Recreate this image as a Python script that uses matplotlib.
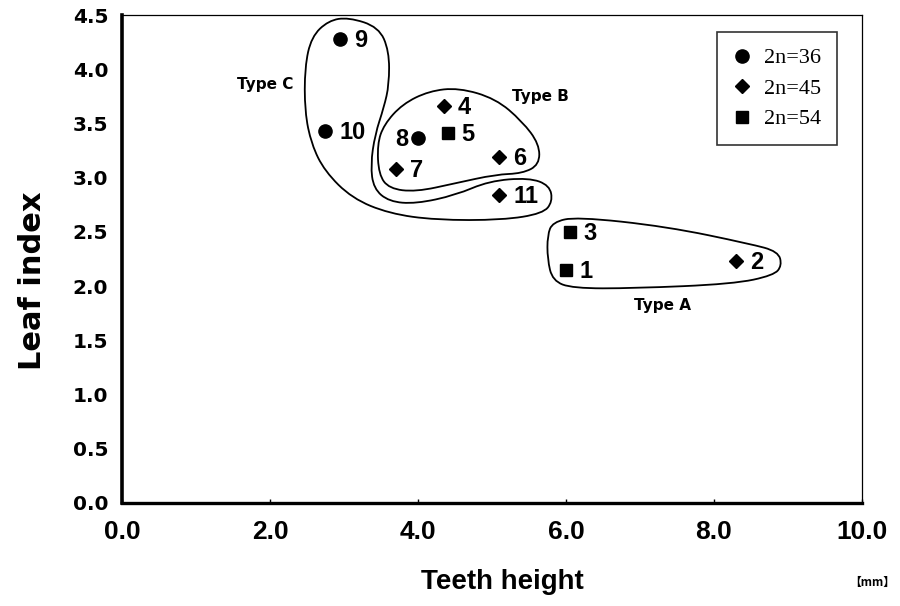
import matplotlib

matplotlib.use("Agg")
import matplotlib.pyplot as plt
from matplotlib.lines import Line2D
from matplotlib.patches import PathPatch
from matplotlib.path import Path

# accession number, teeth height (mm), leaf index, chromosome number
ids = [1, 2, 3, 4, 5, 6, 7, 8, 9, 10, 11]
teeth = [6.0, 8.3, 6.05, 4.35, 4.4, 5.1, 3.7, 4.0, 2.95, 2.75, 5.1]
leaf = [2.15, 2.23, 2.50, 3.66, 3.41, 3.19, 3.08, 3.37, 4.28, 3.43, 2.84]
chrom = [54, 45, 54, 45, 54, 45, 45, 36, 36, 36, 45]

groups = [36, 45, 54]
group_labels = ["2n=36", "2n=45", "2n=54"]

# hand-drawn outlines around the three leaf types (data coords)
type_a_x = [5.82, 6.14, 7.36, 8.49, 8.87, 8.92, 8.81, 8.26, 6.91, 6.09, 5.82, 5.75, 5.75]
type_a_y = [2.59, 2.64, 2.55, 2.39, 2.32, 2.19, 2.10, 2.02, 1.98, 1.98, 2.05, 2.25, 2.47]
type_b_x = [4.55, 5.05, 5.41, 5.64, 5.64, 5.41, 5.05, 4.51, 3.97, 3.61, 3.47, 3.45, 3.54, 3.79, 4.15]
type_b_y = [3.83, 3.73, 3.52, 3.31, 3.12, 3.04, 3.03, 2.95, 2.87, 2.90, 3.03, 3.31, 3.49, 3.68, 3.80]
type_c_x = [3.06, 3.47, 3.61, 3.61, 3.54, 3.42, 3.36, 3.40, 3.61, 3.97, 4.51, 4.96, 5.50,
            5.78, 5.82, 5.69, 5.14, 4.24, 3.61, 3.11, 2.74, 2.56, 2.47, 2.47, 2.56, 2.79]
type_c_y = [4.48, 4.39, 4.17, 3.86, 3.65, 3.40, 3.12, 2.90, 2.78, 2.76, 2.84, 2.97, 3.00,
            2.93, 2.78, 2.67, 2.61, 2.61, 2.67, 2.81, 3.06, 3.31, 3.61, 4.02, 4.30, 4.45]

type_names = ["Type A", "Type B", "Type C"]
type_label_x = [7.30, 5.66, 1.93]
type_label_y = [1.82, 3.75, 3.86]

MARKERS = {36: ("o", 9.5), 45: ("D", 7.2), 54: ("s", 8.4)}


def smooth_closed(xs, ys):
    """Closed quadratic-Bezier outline through the midpoints of the vertices."""
    pts = list(zip(xs, ys))
    n = len(pts)
    mid = lambda a, b: ((a[0] + b[0]) / 2, (a[1] + b[1]) / 2)
    verts = [mid(pts[0], pts[1])]
    codes = [Path.MOVETO]
    for i in range(1, n + 1):
        verts += [pts[i % n], mid(pts[i % n], pts[(i + 1) % n])]
        codes += [Path.CURVE3, Path.CURVE3]
    return Path(verts, codes)


fig = plt.figure(figsize=(9, 6.06), dpi=100)
ax = fig.add_axes([0.1356, 0.170, 0.822, 0.805])

for g in groups:
    m, ms = MARKERS[g]
    xs = [x for x, c in zip(teeth, chrom) if c == g]
    ys = [y for y, c in zip(leaf, chrom) if c == g]
    ax.plot(xs, ys, linestyle="none", marker=m, markersize=ms, color="black", zorder=3)

for i, x, y in zip(ids, teeth, leaf):
    left = i == 8
    ax.annotate(str(i), (x, y), xytext=(-7 if left else 10, -1), textcoords="offset points",
                ha="right" if left else "left", va="center", fontsize=17,
                fontweight="bold", family="Liberation Sans")

for xs, ys in [(type_a_x, type_a_y), (type_b_x, type_b_y), (type_c_x, type_c_y)]:
    ax.add_patch(PathPatch(smooth_closed(xs, ys), facecolor="none", edgecolor="black", lw=1.3))

for name, x, y in zip(type_names, type_label_x, type_label_y):
    ax.text(x, y, name, ha="center", va="center", fontsize=11, fontweight="bold",
            family="DejaVu Sans")

ax.set_xlim(0, 10)
ax.set_ylim(0, 4.5)
ax.set_xticks([0, 2, 4, 6, 8, 10])
ax.set_xticklabels(["0.0", "2.0", "4.0", "6.0", "8.0", "10.0"])
ax.set_yticks([i * 0.5 for i in range(10)])
ax.set_yticklabels([f"{i * 0.5:.1f}" for i in range(10)])
for lbl in ax.get_xticklabels():
    lbl.set_fontfamily("Liberation Sans")
    lbl.set_fontweight("bold")
    lbl.set_fontsize(19)
for lbl in ax.get_yticklabels():
    lbl.set_fontfamily("DejaVu Sans")
    lbl.set_fontweight("bold")
    lbl.set_fontsize(14.5)
ax.tick_params(axis="x", direction="in", length=3, width=1, pad=12)
ax.tick_params(axis="y", length=0, pad=10)

ax.spines["left"].set_linewidth(2.6)
ax.spines["bottom"].set_linewidth(2.4)
ax.spines["top"].set_linewidth(0.9)
ax.spines["right"].set_linewidth(0.9)

handles = [Line2D([], [], linestyle="none", marker=MARKERS[g][0], markersize=MARKERS[g][1],
                  color="black") for g in groups]
leg = ax.legend(handles, group_labels, loc="upper right", bbox_to_anchor=(0.966, 0.965),
                prop={"family": "Liberation Serif", "size": 16}, frameon=True, fancybox=False,
                edgecolor="black", handlelength=0.8, handletextpad=0.6, labelspacing=0.45,
                borderpad=0.7, borderaxespad=0)
leg.get_frame().set_linewidth(1.2)

fig.text(0.558, 1 - 582 / 606, "Teeth height", ha="center", va="center", fontsize=20,
         fontweight="bold", family="Liberation Sans")
fig.text(33 / 900, 1 - 281 / 606, "Leaf index", ha="center", va="center", rotation=90,
         fontsize=22, fontweight="bold", family="DejaVu Sans")
fig.text(872 / 900, 1 - 582 / 606, "【mm】", ha="center", va="center", fontsize=8.5,
         fontweight="bold", family=["Noto Sans CJK JP", "DejaVu Sans"])

fig.savefig("out.png", dpi=100)
